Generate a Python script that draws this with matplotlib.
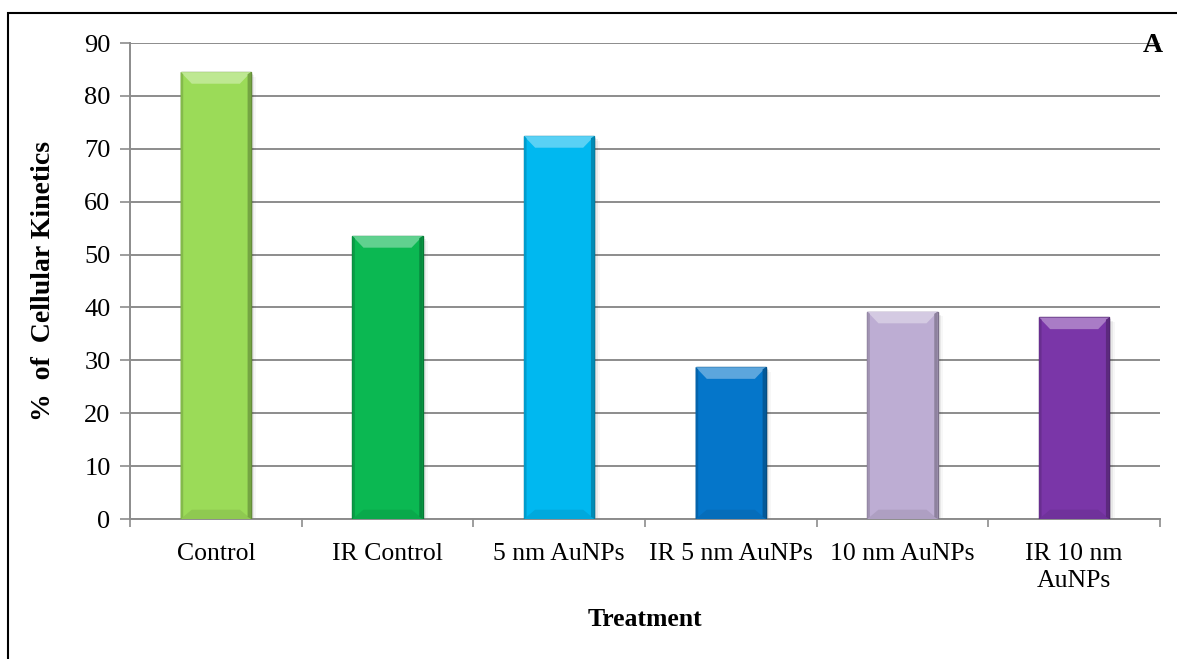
import matplotlib
matplotlib.use("Agg")
import matplotlib.pyplot as plt
from matplotlib.patches import Polygon, Rectangle
import matplotlib.colors as mcolors
import numpy as np

categories = ["Control", "IR Control", "5 nm AuNPs", "IR 5 nm AuNPs", "10 nm AuNPs", "IR 10 nm\nAuNPs"]
values = [84.5, 53.5, 72.4, 28.7, 39.2, 38.1]
colors = ["#9BDB58", "#0BB852", "#00B8F0", "#0576CA", "#BDADD3", "#7A36A8"]
yticks = [0, 10, 20, 30, 40, 50, 60, 70, 80, 90]

plt.rcParams['font.family'] = ['Liberation Serif', 'DejaVu Serif']

fig = plt.figure(figsize=(11.77, 6.59), dpi=100)
ax = fig.add_axes([130 / 1177, 1 - 519 / 659, 1030 / 1177, 476 / 659])

x = np.arange(len(categories))
width = 0.41
ax.set_xlim(-0.5, len(categories) - 0.5)
ax.set_ylim(0, 90)


def shade(c, f):
    r, g, b = mcolors.to_rgb(c)
    if f >= 0:
        return (r + (1 - r) * f, g + (1 - g) * f, b + (1 - b) * f)
    return (r * (1 + f), g * (1 + f), b * (1 + f))


dx = 0.065   # bevel inset along x (data units)
dy = 2.2     # bevel height along y (data units)
for xi, v, c in zip(x, values, colors):
    l, r = xi - width / 2, xi + width / 2
    # soft shadow
    for k, a in enumerate([0.10, 0.06, 0.03]):
        ax.add_patch(Rectangle((l + 0.01 * (k + 1), 0), width, v - 0.3 * (k + 1),
                               facecolor="black", alpha=a, edgecolor="none", zorder=2))
    ax.bar(xi, v, width=width, color=c, edgecolor=shade(c, -0.35), linewidth=1.0, zorder=3)
    # bevel facets
    ax.add_patch(Polygon([(l, v), (r, v), (r - dx, v - dy), (l + dx, v - dy)],
                         closed=True, facecolor=shade(c, 0.35), edgecolor="none", zorder=4))
    ax.add_patch(Polygon([(l, 0), (r, 0), (r - dx, dy * 0.8), (l + dx, dy * 0.8)],
                         closed=True, facecolor=shade(c, -0.08), edgecolor="none", zorder=4))
    ax.add_patch(Polygon([(r, 0), (r, v), (r - 0.02, v - 0.4), (r - 0.02, 0.4)],
                         closed=True, facecolor=shade(c, -0.25), edgecolor="none", zorder=4))
    ax.add_patch(Polygon([(l, 0), (l, v), (l + 0.015, v - 0.4), (l + 0.015, 0.4)],
                         closed=True, facecolor=shade(c, -0.15), edgecolor="none", zorder=4))

ax.set_yticks(yticks)
ax.set_yticklabels([str(t) for t in yticks], fontsize=19)
ax.yaxis.grid(True, color="#8C8C8C", linewidth=1.4, zorder=0)
ax.set_axisbelow(True)

ax.set_xticks(x)
ax.set_xticklabels(categories, fontsize=18.5, linespacing=1.3)
ax.set_xticks(np.arange(-0.5, len(categories)), minor=True)
ax.tick_params(axis="x", which="major", length=0, pad=17)
ax.tick_params(axis="x", which="minor", length=6, color="#8C8C8C", width=1.2)
ax.tick_params(axis="y", length=7, color="#8C8C8C", width=1.2, pad=7)

for s in ["top", "right"]:
    ax.spines[s].set_visible(False)
for s in ["left", "bottom"]:
    ax.spines[s].set_color("#8C8C8C")
    ax.spines[s].set_linewidth(1.4)

ax.set_ylabel("%  of  Cellular Kinetics", fontsize=20, fontweight="bold", labelpad=20)
ax.set_xlabel("Treatment", fontsize=18.5, fontweight="bold", labelpad=12)

fig.text(1163 / 1177, 1 - 52 / 659, "A", fontsize=20, fontweight="bold",
         ha="right", va="baseline")

# outer frame
fig.add_artist(Rectangle((8 / 1177, -0.01), 1.02, 1 - 13 / 659 + 0.01,
                         transform=fig.transFigure, fill=False,
                         edgecolor="black", linewidth=1.5))

fig.savefig("out.png", dpi=100)
